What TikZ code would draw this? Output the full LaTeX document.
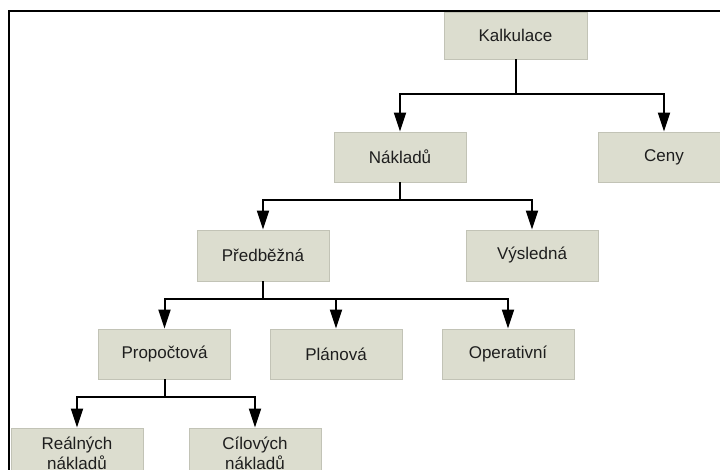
\documentclass[tikz,border=0pt]{standalone}
\usepackage{fontspec}
\setmainfont{Liberation Sans}
\usetikzlibrary{arrows.meta}
\definecolor{boxfill}{HTML}{DCDDCF}
\definecolor{boxline}{HTML}{C2C3B6}
\definecolor{txt}{HTML}{1E1E1E}
\begin{document}
\begin{tikzpicture}[x=1pt,y=-1pt,
  box/.style={draw=boxline,line width=0.8pt,fill=boxfill,minimum width=132pt,minimum height=50pt,
    inner sep=0pt,align=center,text=txt,font=\fontsize{17}{20}\selectfont},
  arr/.style={line width=2pt,-{Triangle[width=12pt,length=19pt]},line join=miter}]
\useasboundingbox (0,0) rectangle (720,470);
\clip (0,0) rectangle (720,470);
\fill[white] (0,0) rectangle (720,470);
\node[box,minimum width=143pt,minimum height=47pt] (kal) at (515.5,35.5) {Kalkulace};
\node[box] (nak) at (400,157) {Nákladů};
\node[box] (cen) at (664,157) {Ceny};
\node[box,minimum height=51pt] (pre) at (263,255.5) {Předběžná};
\node[box,minimum height=51pt] (vys) at (532,255.5) {Výsledná};
\node[box] (pro) at (164.5,354) {Propočtová};
\node[box] (pla) at (336,354) {Plánová};
\node[box] (ope) at (508,354) {Operativní};
\node[box] (rea) at (77,453) {Reálných\\nákladů};
\node[box] (cil) at (255,453) {Cílových\\nákladů};
\draw[arr] (kal.south) -- ++(0,35) -| (nak.north);
\draw[arr] (kal.south) -- ++(0,35) -| (cen.north);
\draw[arr] (nak.south) -- ++(0,18) -| (pre.north);
\draw[arr] (nak.south) -- ++(0,18) -| (vys.north);
\draw[arr] (pre.south) -- ++(0,18) -| (pro.north);
\draw[arr] (pre.south) -- ++(0,18) -| (pla.north);
\draw[arr] (pre.south) -- ++(0,18) -| (ope.north);
\draw[arr] (pro.south) -- ++(0,18) -| (rea.north);
\draw[arr] (pro.south) -- ++(0,18) -| (cil.north);
\coordinate (fbl) at (9.3,480);
\coordinate (ftl) at (9.3,10.7);
\coordinate (ftr) at (730,10.7);
\draw[line width=2pt] (fbl) -- (ftl) -- (ftr);
\end{tikzpicture}
\end{document}
